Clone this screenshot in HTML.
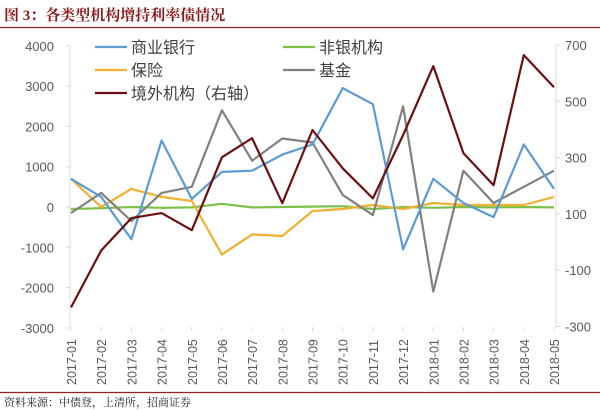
<!DOCTYPE html>
<html><head><meta charset="utf-8"><style>
body{margin:0;background:#fff;width:600px;height:410px;overflow:hidden}
svg{display:block}
</style></head><body>
<svg id="s" width="600" height="410" xmlns="http://www.w3.org/2000/svg" font-family="Liberation Sans, Noto Sans CJK SC, sans-serif">
<text x="4" y="20" font-family="Liberation Serif, Noto Serif CJK SC, serif" font-weight="bold" font-size="15" fill="#8b1a1a">图 3：各类型机构增持利率债情况</text>
<line x1="0" y1="27.5" x2="600" y2="27.5" stroke="#9b2020" stroke-width="1.2"/>
<line x1="0" y1="392.5" x2="600" y2="392.5" stroke="#9b2020" stroke-width="1.2"/>
<text x="4" y="406" font-family="Noto Serif CJK SC, serif" font-size="11" fill="#222">资料来源：中债登，上清所，招商证券</text>
<g id="g"></g>
</svg>
<script>
var g=document.getElementById('g'),h='';
var L=70,R=556,x=function(i){return L+i*(R-L-3)/16+1};
var yl=function(v){return 207-v*0.0403};
var yr=function(v){return 45+(700-v)*0.2815};
h+='<line x1="70" y1="45" x2="70" y2="327" stroke="#d9d9d9"/><line x1="556" y1="45" x2="556" y2="327" stroke="#d9d9d9"/>';
for(var v=4000;v>=-3000;v-=1000){var y=yl(v);h+='<line x1="66" y1="'+y+'" x2="70" y2="'+y+'" stroke="#d9d9d9"/><text x="54" y="'+(y+5)+'" text-anchor="end" font-size="13" fill="#595959">'+v+'</text>';}
for(var v=700;v>=-300;v-=200){var y=yr(v);h+='<line x1="556" y1="'+y+'" x2="560" y2="'+y+'" stroke="#d9d9d9"/><text x="565" y="'+(y+5)+'" font-size="13" fill="#595959">'+v+'</text>';}
var lab=[];for(var i=0;i<17;i++){var m=i<12?('2017-'+('0'+(i+1)).slice(-2)):('2018-0'+(i-11));var xx=x(i);h+='<line x1="'+xx+'" y1="327" x2="'+xx+'" y2="331" stroke="#d9d9d9"/><text transform="translate('+(xx+5)+',385) rotate(-90)" font-size="12.5" fill="#595959">'+m+'</text>';}
function pl(d,f,c){var p=d.map(function(v,i){return x(i).toFixed(1)+','+f(v).toFixed(1)}).join(' ');h+='<polyline points="'+p+'" fill="none" stroke="'+c+'" stroke-width="2.2" stroke-linejoin="round"/>';}
pl([-50,-30,0,-20,-10,80,-10,0,10,20,-50,0,-20,0,-10,0,-10],yl,'#7cc04a');
pl([700,0,450,250,150,-1180,-680,-720,-100,-50,50,-50,100,50,50,50,250],yl,'#f0b030');
pl([-150,350,-350,350,500,2400,1150,1700,1600,300,-200,2500,-2100,900,100,500,900],yl,'#808080');
pl([700,250,-800,1650,200,870,900,1300,1550,2950,2550,-1050,700,100,-250,1550,450],yl,'#5b9bd5');
pl([-232,-30,85,103,42,301,369,138,398,262,155,380,625,316,202,664,550],yr,'#6b0f12');
var lg=[[95,47,'#5b9bd5','商业银行'],[283,47,'#7cc04a','非银机构'],[95,70,'#f0b030','保险'],[283,70,'#808080','基金'],[95,93,'#6b0f12','境外机构（右轴）']];
lg.forEach(function(a){h+='<line x1="'+a[0]+'" y1="'+a[1]+'" x2="'+(a[0]+32)+'" y2="'+a[1]+'" stroke="'+a[2]+'" stroke-width="2.2"/><text x="'+(a[0]+36)+'" y="'+(a[1]+6)+'" font-size="16" fill="#404040">'+a[3]+'</text>';});
g.innerHTML=h;
</script>
</body></html>
